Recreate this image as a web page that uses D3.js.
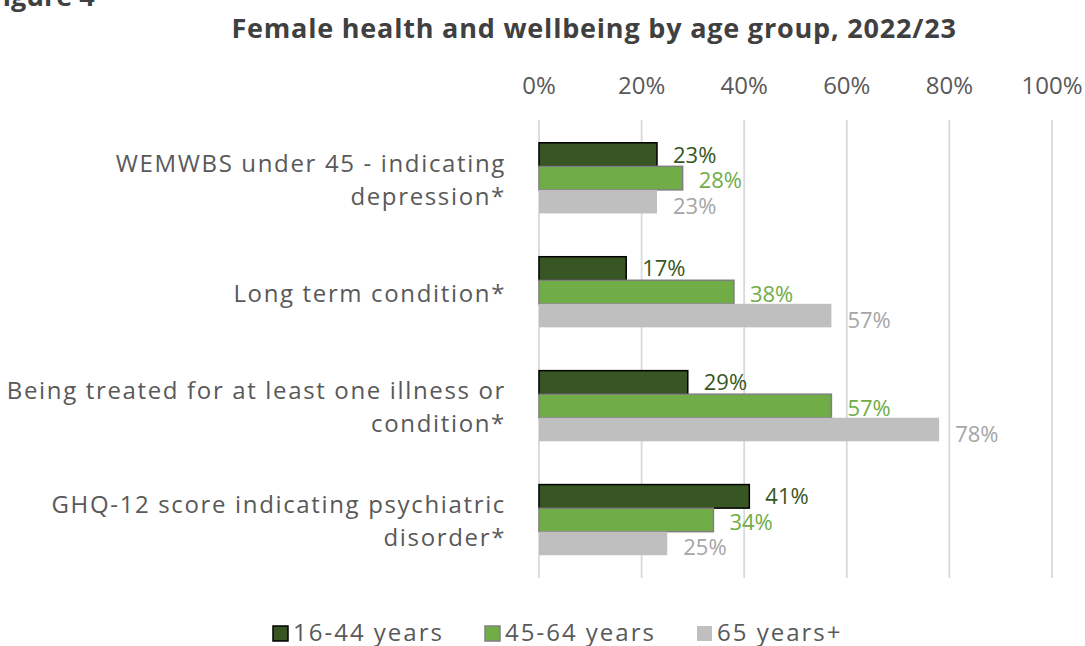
<html>
    <head>
        <style>
            body { margin: 0; background: #fff; }
            svg { font-family: 'Open Sans', sans-serif; }
            .chart .grid line { stroke: #d9d9d9; stroke-width: 1.8; }
            .chart .axis text { fill: #595959; font-size: 24px; }
            .chart .cat text { fill: #595959; font-size: 24px; letter-spacing: 1.65px; }
            .chart .legend text { fill: #595959; font-size: 24px; letter-spacing: 2px; }
        </style>
    </head>
    <body>
        <svg class="chart" width="1085" height="646"></svg>
        <script src="https://d3js.org/d3.v7.min.js"></script>
        <script>
            // values
            var categories = [
                ["WEMWBS under 45 - indicating", "depression*"],
                ["Long term condition*"],
                ["Being treated for at least one illness or", "condition*"],
                ["GHQ-12 score indicating psychiatric", "disorder*"]
            ];
            var seriesNames = ["16-44 years", "45-64 years", "65 years+"];
            var age16to44 = [23, 17, 29, 41];
            var age45to64 = [28, 38, 57, 34];
            var age65plus = [23, 57, 78, 25];
            var ticks = [0, 20, 40, 60, 80, 100];

            var fills = ["#375623", "#70ad47", "#bfbfbf"];
            var strokes = ["#000000", "#7f7f7f", "none"];
            var labelColors = ["#375623", "#70ad47", "#a6a6a6"];
            var labelShift = [-1, 1, 3];
            var series = [age16to44, age45to64, age65plus];

            var chart = d3.select('.chart');

            var x = d3.scaleLinear().domain([0, 100]).range([539, 1052]);
            var y = d3.scaleBand()
                .domain(d3.range(categories.length))
                .range([120, 578])
                .paddingInner(0.38)
                .paddingOuter(0.2);
            var yInner = d3.scaleBand()
                .domain(d3.range(series.length))
                .range([0, y.bandwidth()]);

            // title + clipped figure number
            chart.append('text')
                .attr('x', -12).attr('y', 6)
                .style('font-size', '27px').style('font-weight', 'bold').style('fill', '#404040')
                .text('Figure 4');
            chart.append('text')
                .attr('x', 594).attr('y', 38)
                .attr('text-anchor', 'middle')
                .style('font-size', '27px').style('font-weight', 'bold').style('fill', '#404040')
                .style('letter-spacing', '0.8px')
                .text('Female health and wellbeing by age group, 2022/23');

            // gridlines
            chart.append('g').attr('class', 'grid')
                .selectAll('line')
                .data(ticks)
                .enter()
                .append('line')
                .attr('x1', function(d) { return x(d); })
                .attr('x2', function(d) { return x(d); })
                .attr('y1', 120).attr('y2', 578);

            // top tick labels
            chart.append('g').attr('class', 'axis')
                .selectAll('text')
                .data(ticks)
                .enter()
                .append('text')
                .attr('x', function(d) { return x(d); })
                .attr('y', 94)
                .attr('text-anchor', 'middle')
                .text(function(d) { return d + '%'; });

            // bars
            var groups = chart.selectAll('g.group')
                .data(categories)
                .enter()
                .append('g')
                .attr('class', 'group')
                .attr('transform', function(d, i) { return 'translate(0,' + y(i) + ')'; });

            groups.each(function(cat, ci) {
                var g = d3.select(this);
                series.forEach(function(vals, si) {
                    var v = vals[ci];
                    g.append('rect')
                        .attr('x', x(0))
                        .attr('y', yInner(si))
                        .attr('width', x(v) - x(0))
                        .attr('height', yInner.bandwidth())
                        .style('fill', fills[si])
                        .style('stroke', strokes[si])
                        .style('stroke-width', 1.5);
                    g.append('text')
                        .attr('x', x(v) + 16)
                        .attr('y', yInner(si) + yInner.bandwidth() / 2 + labelShift[si])
                        .attr('dominant-baseline', 'central')
                        .style('font-size', '22px')
                        .style('fill', labelColors[si])
                        .text(v + '%');
                });
            });

            // category labels
            var cat = chart.append('g').attr('class', 'cat');
            categories.forEach(function(lines, i) {
                var cy = y(i) + y.bandwidth() / 2;
                var lh = 33;
                var t = cat.append('text')
                    .attr('text-anchor', 'end')
                    .attr('dominant-baseline', 'central');
                lines.forEach(function(line, li) {
                    t.append('tspan')
                        .attr('x', 506)
                        .attr('y', cy + (li - (lines.length - 1) / 2) * lh)
                        .text(line);
                });
            });

            // legend
            var legend = chart.append('g').attr('class', 'legend');
            var legendX = [273, 485, 697];
            seriesNames.forEach(function(name, i) {
                legend.append('rect')
                    .attr('x', legendX[i]).attr('y', 626)
                    .attr('width', 15).attr('height', 15)
                    .style('fill', fills[i])
                    .style('stroke', strokes[i])
                    .style('stroke-width', 1.5);
                legend.append('text')
                    .attr('x', legendX[i] + 20).attr('y', 631)
                    .attr('dominant-baseline', 'central')
                    .text(name);
            });
        </script>
    </body>
</html>
